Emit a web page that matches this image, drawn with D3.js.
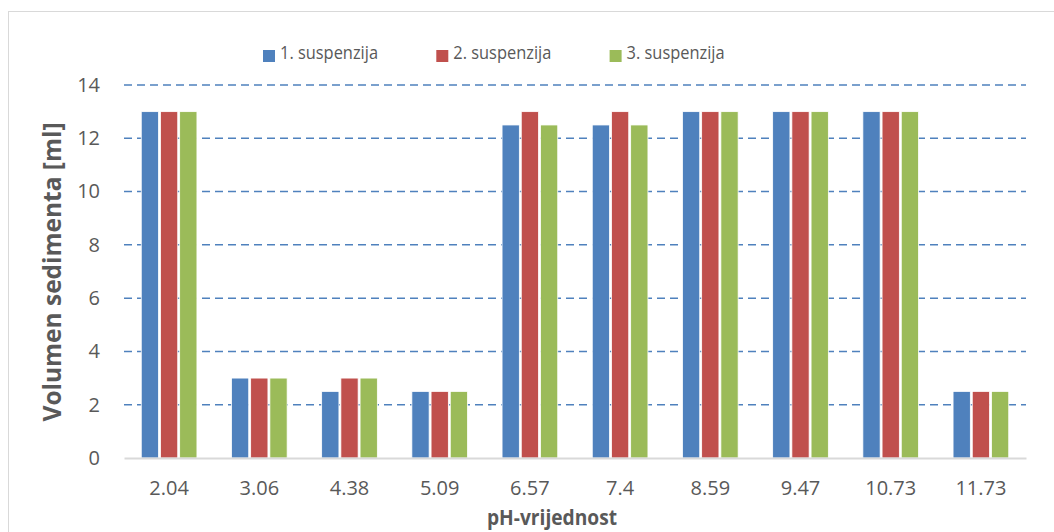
<!DOCTYPE html>
<html>
<head>
<meta charset="utf-8">
<script src="https://cdn.jsdelivr.net/npm/d3@7"></script>
<style>
  body { margin: 0; background: #fff; }
  svg { display: block; font-family: "Open Sans", "Noto Sans", sans-serif; }
  .tick text { fill: #595959; font-size: 20px; font-family: "Open Sans", sans-serif; }
  .grid line { stroke: #4f81bd; stroke-dasharray: 8 5; stroke-width: 1.5; }
</style>
</head>
<body>
<svg id="chart" width="1054" height="532"></svg>
<script>
// pH values on the x axis
const categories = ["2.04", "3.06", "4.38", "5.09", "6.57", "7.4", "8.59", "9.47", "10.73", "11.73"];
const seriesNames = ["1. suspenzija", "2. suspenzija", "3. suspenzija"];
const susp1 = [13, 3, 2.5, 2.5, 12.5, 12.5, 13, 13, 13, 2.5];
const susp2 = [13, 3, 3, 2.5, 13, 13, 13, 13, 13, 2.5];
const susp3 = [13, 3, 3, 2.5, 12.5, 12.5, 13, 13, 13, 2.5];
const yTicks = [0, 2, 4, 6, 8, 10, 12, 14];
const colors = ["#4f81bd", "#c0504d", "#9bbb59"];

const seriesValues = [susp1, susp2, susp3];
const rows = categories.map((c, i) => ({ cat: c, vals: seriesValues.map(s => s[i]) }));

const svg = d3.select("#chart");
const margin = { left: 124, right: 28, top: 85, bottom: 74 };
const W = 1054, H = 532;

// chart border
svg.append("rect")
  .attr("x", 8.5).attr("y", 11.5)
  .attr("width", W + 10).attr("height", H + 10)
  .attr("fill", "none").attr("stroke", "#d9d9d9");

const x0 = d3.scaleBand()
  .domain(categories)
  .range([margin.left, W - margin.right])
  .paddingInner(0.34).paddingOuter(0.17);

const x1 = d3.scaleBand()
  .domain(d3.range(3))
  .range([0, x0.bandwidth()])
  .padding(0.1);

const y = d3.scaleLinear()
  .domain([0, 14])
  .range([H - margin.bottom, margin.top]);

// dashed gridlines
svg.append("g")
  .attr("class", "grid")
  .selectAll("line")
  .data(yTicks.filter(t => t > 0))
  .join("line")
  .attr("x1", margin.left).attr("x2", W - margin.right)
  .attr("y1", d => y(d)).attr("y2", d => y(d));

// y axis
const yAxis = svg.append("g")
  .attr("transform", `translate(${margin.left},0)`)
  .call(d3.axisLeft(y).tickValues(yTicks).tickSize(0).tickPadding(24));
yAxis.select(".domain").remove();

// bars
svg.append("g")
  .selectAll("g")
  .data(rows)
  .join("g")
  .attr("transform", d => `translate(${x0(d.cat)},0)`)
  .selectAll("rect")
  .data(d => d.vals.map((v, i) => ({ v, i })))
  .join("rect")
  .attr("x", d => x1(d.i))
  .attr("width", x1.bandwidth())
  .attr("y", d => y(d.v))
  .attr("height", d => y(0) - y(d.v))
  .attr("fill", d => colors[d.i])
  .attr("stroke", "#fff")
  .attr("stroke-width", 0.8);

// x axis
const xAxis = svg.append("g")
  .attr("transform", `translate(0,${y(0)})`)
  .call(d3.axisBottom(x0).tickSize(0).tickPadding(23));
xAxis.select(".domain").attr("stroke", "#d9d9d9").attr("stroke-width", 2);

// axis titles
svg.append("text")
  .attr("transform", "translate(61,272) rotate(-90)")
  .attr("text-anchor", "middle")
  .attr("font-size", 25).attr("font-weight", "bold").attr("fill", "#595959")
  .attr("textLength", 299).attr("lengthAdjust", "spacingAndGlyphs")
  .text("Volumen sedimenta [ml]");

svg.append("text")
  .attr("x", 552)
  .attr("y", 525)
  .attr("text-anchor", "middle")
  .attr("font-size", 22).attr("font-weight", "bold").attr("fill", "#595959")
  .attr("textLength", 130).attr("lengthAdjust", "spacingAndGlyphs")
  .text("pH-vrijednost");

// legend
const legend = svg.append("g")
  .selectAll("g")
  .data(seriesNames)
  .join("g")
  .attr("transform", (d, i) => `translate(${263 + i * 173.3},50)`);
legend.append("rect")
  .attr("x", 0).attr("y", 0).attr("width", 12).attr("height", 12)
  .attr("fill", (d, i) => colors[i]);
legend.append("text")
  .attr("x", 17).attr("y", 9)
  .attr("font-size", 19).attr("fill", "#595959")
  .attr("textLength", 98).attr("lengthAdjust", "spacingAndGlyphs")
  .text(d => d);
</script>
</body>
</html>
